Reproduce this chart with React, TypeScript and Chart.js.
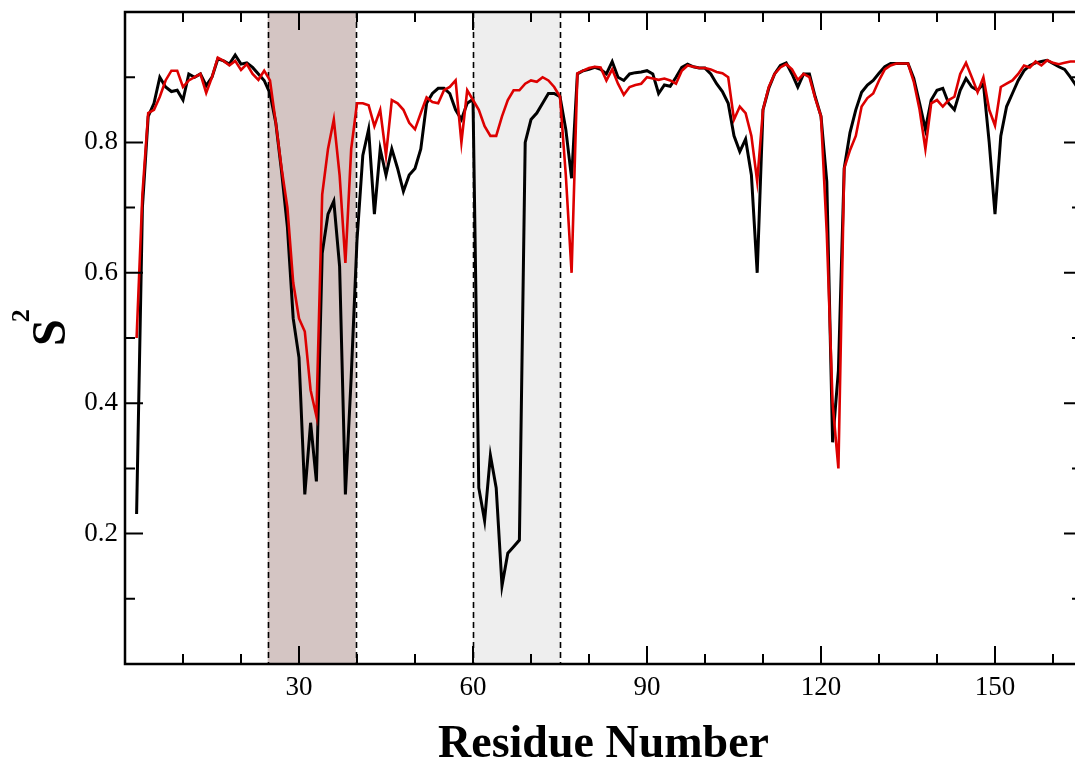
import React, { useEffect, useRef } from "react";
import { Chart, registerables } from "chart.js";

Chart.register(...registerables);

// Residue numbers
const residues = [
  2, 3, 4, 5, 6, 7, 8, 9, 10, 11,
  12, 13, 14, 15, 16, 17, 18, 19, 20, 21,
  22, 23, 24, 25, 26, 27, 28, 29, 30, 31,
  32, 33, 34, 35, 36, 37, 38, 39, 40, 41,
  42, 43, 44, 45, 46, 47, 48, 49, 50, 51,
  52, 53, 54, 55, 56, 57, 58, 59, 60, 61,
  62, 63, 64, 65, 66, 67, 68, 69, 70, 71,
  72, 73, 74, 75, 76, 77, 78, 79, 80, 81,
  82, 83, 84, 85, 86, 87, 88, 89, 90, 91,
  92, 93, 94, 95, 96, 97, 98, 99, 100, 101,
  102, 103, 104, 105, 106, 107, 108, 109, 110, 111,
  112, 113, 114, 115, 116, 117, 118, 119, 120, 121,
  122, 123, 124, 125, 126, 127, 128, 129, 130, 131,
  132, 133, 134, 135, 136, 137, 138, 139, 140, 141,
  142, 143, 144, 145, 146, 147, 148, 149, 150, 151,
  152, 153, 154, 155, 156, 157, 158, 159, 160, 161,
  162, 163, 164, 165,
];

// S^2 order parameters, black series
const blackS2 = [
  0.23, 0.70, 0.84, 0.86, 0.90, 0.885, 0.878, 0.88, 0.865, 0.905,
  0.90, 0.905, 0.887, 0.90, 0.928, 0.925, 0.92, 0.934, 0.92, 0.922,
  0.915, 0.905, 0.895, 0.875, 0.83, 0.755, 0.67, 0.53, 0.47, 0.26,
  0.37, 0.28, 0.63, 0.69, 0.71, 0.61, 0.26, 0.44, 0.65, 0.78,
  0.82, 0.69, 0.79, 0.75, 0.79, 0.76, 0.725, 0.75, 0.76, 0.79,
  0.86, 0.875, 0.883, 0.883, 0.875, 0.85, 0.835, 0.86, 0.866, 0.27,
  0.22, 0.32, 0.27, 0.12, 0.17, 0.18, 0.19, 0.80, 0.835, 0.845,
  0.86, 0.875, 0.875, 0.87, 0.82, 0.745, 0.905, 0.91, 0.912, 0.915,
  0.912, 0.905, 0.924, 0.90, 0.895, 0.905, 0.907, 0.908, 0.91, 0.905,
  0.875, 0.888, 0.886, 0.90, 0.915, 0.92, 0.916, 0.914, 0.914, 0.905,
  0.89, 0.878, 0.86, 0.81, 0.786, 0.805, 0.75, 0.60, 0.85, 0.883,
  0.905, 0.918, 0.922, 0.905, 0.885, 0.905, 0.905, 0.87, 0.84, 0.74,
  0.34, 0.45, 0.76, 0.815, 0.85, 0.877, 0.888, 0.895, 0.906, 0.916,
  0.921, 0.921, 0.921, 0.921, 0.898, 0.86, 0.82, 0.865, 0.88, 0.883,
  0.86, 0.85, 0.88, 0.898, 0.885, 0.88, 0.89, 0.80, 0.69, 0.81,
  0.855, 0.875, 0.895, 0.91, 0.918, 0.922, 0.924, 0.926, 0.921, 0.916,
  0.912, 0.90, 0.887, 0.875,
];

// S^2 order parameters, red series
const redS2 = [
  0.50, 0.72, 0.845, 0.85, 0.87, 0.895, 0.91, 0.91, 0.885, 0.895,
  0.90, 0.905, 0.876, 0.90, 0.93, 0.925, 0.918, 0.925, 0.911, 0.92,
  0.905, 0.896, 0.91, 0.895, 0.83, 0.76, 0.70, 0.585, 0.53, 0.51,
  0.42, 0.38, 0.72, 0.79, 0.835, 0.75, 0.615, 0.79, 0.86, 0.86,
  0.857, 0.825, 0.85, 0.78, 0.865, 0.86, 0.85, 0.83, 0.82, 0.845,
  0.869, 0.862, 0.86, 0.88, 0.885, 0.895, 0.80, 0.88, 0.865, 0.85,
  0.825, 0.81, 0.81, 0.84, 0.865, 0.88, 0.88, 0.89, 0.895, 0.893,
  0.90, 0.895, 0.885, 0.87, 0.75, 0.60, 0.906, 0.91, 0.914, 0.916,
  0.915, 0.895, 0.912, 0.89, 0.873, 0.885, 0.888, 0.89, 0.90, 0.898,
  0.896, 0.898, 0.895, 0.89, 0.91, 0.918, 0.916, 0.914, 0.914, 0.912,
  0.908, 0.906, 0.90, 0.835, 0.855, 0.845, 0.81, 0.74, 0.85, 0.885,
  0.905, 0.915, 0.92, 0.912, 0.896, 0.905, 0.90, 0.868, 0.84, 0.66,
  0.40, 0.30, 0.76, 0.788, 0.81, 0.855, 0.868, 0.875, 0.895, 0.912,
  0.918, 0.921, 0.921, 0.921, 0.893, 0.85, 0.79, 0.86, 0.865, 0.855,
  0.865, 0.87, 0.905, 0.922, 0.90, 0.877, 0.90, 0.85, 0.826, 0.885,
  0.89, 0.895, 0.905, 0.918, 0.915, 0.924, 0.918, 0.926, 0.922, 0.92,
  0.922, 0.924, 0.924, 0.922,
];

// Axis ticks
const xMajorTicks = [30, 60, 90, 120, 150];
const xMinorTicks = [10, 20, 40, 50, 70, 80, 100, 110, 130, 140, 160];
const yMajorTicks = [0.2, 0.4, 0.6, 0.8];
const yMinorTicks = [0.1, 0.3, 0.5, 0.7, 0.9];

// Highlighted residue ranges
const regionStarts = [24.6, 60];
const regionEnds = [39.8, 75];
const regionColors = ["#d4c5c3", "#eeeeee"];

const X_MIN = 0;
const X_MAX = 165;
const Y_MIN = 0;
const Y_MAX = 1;

const SERIF = '"Liberation Serif", "Times New Roman", serif';

const decorPlugin = {
  id: "decor",
  beforeDatasetsDraw(chart: any) {
    const { ctx, chartArea, scales } = chart;
    const xs = scales.x;
    ctx.save();
    for (let i = 0; i < regionStarts.length; i++) {
      const x0 = xs.getPixelForValue(regionStarts[i]);
      const x1 = xs.getPixelForValue(regionEnds[i]);
      ctx.fillStyle = regionColors[i];
      ctx.fillRect(x0, chartArea.top, x1 - x0, chartArea.bottom - chartArea.top);
    }
    ctx.strokeStyle = "#000";
    ctx.lineWidth = 1.6;
    ctx.setLineDash([6, 4]);
    for (let i = 0; i < regionStarts.length; i++) {
      for (const v of [regionStarts[i], regionEnds[i]]) {
        const x = Math.round(xs.getPixelForValue(v)) + 0.5;
        ctx.beginPath();
        ctx.moveTo(x, chartArea.top);
        ctx.lineTo(x, chartArea.bottom);
        ctx.stroke();
      }
    }
    ctx.restore();
  },
  afterDraw(chart: any) {
    const { ctx, chartArea, scales } = chart;
    const xs = scales.x;
    const ys = scales.y;
    const { left, right, top, bottom } = chartArea;
    ctx.save();
    ctx.strokeStyle = "#000";
    ctx.lineWidth = 2;
    ctx.setLineDash([]);
    const majorLen = 18;
    const minorLen = 10;
    const drawX = (v: number, len: number) => {
      const x = xs.getPixelForValue(v);
      ctx.beginPath();
      ctx.moveTo(x, bottom);
      ctx.lineTo(x, bottom - len);
      ctx.moveTo(x, top);
      ctx.lineTo(x, top + len);
      ctx.stroke();
    };
    const drawY = (v: number, len: number) => {
      const y = ys.getPixelForValue(v);
      ctx.beginPath();
      ctx.moveTo(left, y);
      ctx.lineTo(left + len, y);
      ctx.moveTo(right, y);
      ctx.lineTo(right - len, y);
      ctx.stroke();
    };
    xMajorTicks.forEach((v) => drawX(v, majorLen));
    xMinorTicks.forEach((v) => drawX(v, minorLen));
    yMajorTicks.forEach((v) => drawY(v, majorLen));
    yMinorTicks.forEach((v) => drawY(v, minorLen));
    // frame
    ctx.lineWidth = 2.5;
    ctx.strokeRect(left, top, right - left, bottom - top);

    // axis titles
    ctx.fillStyle = "#000";
    ctx.font = `bold 46px ${SERIF}`;
    ctx.textAlign = "center";
    ctx.textBaseline = "alphabetic";
    ctx.fillText("Residue Number", (left + right) / 2, 757);

    ctx.translate(65, 346);
    ctx.rotate(-Math.PI / 2);
    ctx.textAlign = "left";
    ctx.font = `bold 48px ${SERIF}`;
    ctx.fillText("S", 0, 0);
    const sw = ctx.measureText("S").width;
    ctx.font = `bold 26px ${SERIF}`;
    ctx.fillText("2", sw - 3, -36);
    ctx.restore();
  },
};

export default function App() {
  const canvasRef = useRef<HTMLCanvasElement | null>(null);

  useEffect(() => {
    document.body.style.margin = "0";
    const canvas = canvasRef.current;
    if (!canvas) return;
    const chart = new Chart(canvas, {
      type: "line",
      data: {
        datasets: [
          {
            label: "black",
            data: residues.map((r, i) => ({ x: r, y: blackS2[i] })),
            borderColor: "#000000",
            borderWidth: 3,
            pointRadius: 0,
            tension: 0,
            order: 2,
          },
          {
            label: "red",
            data: residues.map((r, i) => ({ x: r, y: redS2[i] })),
            borderColor: "#dd0000",
            borderWidth: 2.6,
            pointRadius: 0,
            tension: 0,
            order: 1,
          },
        ],
      },
      options: {
        responsive: false,
        animation: false,
        devicePixelRatio: 1,
        layout: { padding: { top: 12, right: 8, left: 0, bottom: 0 } },
        plugins: {
          legend: { display: false },
          tooltip: { enabled: false },
          title: { display: false },
        },
        scales: {
          x: {
            type: "linear",
            min: X_MIN,
            max: X_MAX,
            grid: { display: false, drawTicks: false },
            border: { display: false },
            afterBuildTicks: (scale: any) => {
              scale.ticks = xMajorTicks.map((v) => ({ value: v }));
            },
            afterFit: (scale: any) => {
              scale.height = 96;
              scale.paddingLeft = 0;
              scale.paddingRight = 0;
            },
            ticks: {
              autoSkip: false,
              maxRotation: 0,
              padding: 8,
              color: "#000",
              font: { family: SERIF, size: 27 },
              callback: (v: any) => String(v),
            },
          },
          y: {
            type: "linear",
            min: Y_MIN,
            max: Y_MAX,
            grid: { display: false, drawTicks: false },
            border: { display: false },
            afterBuildTicks: (scale: any) => {
              scale.ticks = yMajorTicks.map((v) => ({ value: v }));
            },
            afterFit: (scale: any) => {
              scale.width = 125;
              scale.paddingTop = 0;
              scale.paddingBottom = 0;
            },
            ticks: {
              autoSkip: false,
              padding: 7,
              color: "#000",
              font: { family: SERIF, size: 27 },
              callback: (v: any) => Number(v).toFixed(1),
            },
          },
        },
      },
      plugins: [decorPlugin],
    });
    return () => chart.destroy();
  }, []);

  return (
    <div
      style={{
        width: 1075,
        height: 760,
        overflow: "hidden",
        position: "relative",
        background: "#fff",
      }}
    >
      <canvas
        ref={canvasRef}
        width={1090}
        height={760}
        style={{ display: "block", width: 1090, height: 760 }}
      />
    </div>
  );
}
